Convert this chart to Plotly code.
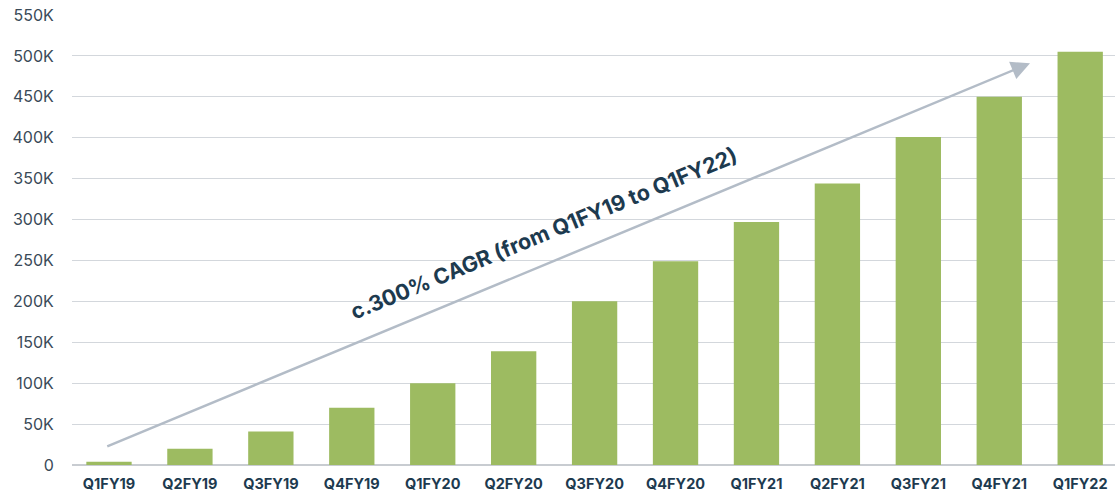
import plotly.graph_objects as go

categories = ["Q1FY19", "Q2FY19", "Q3FY19", "Q4FY19", "Q1FY20", "Q2FY20", "Q3FY20",
              "Q4FY20", "Q1FY21", "Q2FY21", "Q3FY21", "Q4FY21", "Q1FY22"]
values = [4000, 20000, 41000, 70000, 100000, 139000, 200000,
          249000, 297000, 344000, 401000, 450000, 505000]
tick_vals = [0, 50000, 100000, 150000, 200000, 250000, 300000, 350000, 400000, 450000, 500000, 550000]
tick_text = ["0", "50K", "100K", "150K", "200K", "250K", "300K", "350K", "400K", "450K", "500K", "550K"]
note_text = "c.300% CAGR (from Q1FY19 to Q1FY22)"
arrow_start = (-0.04, 22000)
arrow_end = (11.38, 491000)
note_pos = (5.38, 283000)

fig = go.Figure()
fig.add_trace(go.Bar(
    x=list(range(len(categories))), y=values,
    marker=dict(color="#9dbb61", line=dict(width=0)),
    width=0.56,
))

fig.add_annotation(
    x=arrow_end[0], y=arrow_end[1], ax=arrow_start[0], ay=arrow_start[1],
    xref="x", yref="y", axref="x", ayref="y",
    text="", showarrow=True, arrowhead=2, arrowsize=1.5, arrowwidth=2.5,
    arrowcolor="#b3bcc7",
)
fig.add_annotation(
    x=note_pos[0], y=note_pos[1], xref="x", yref="y",
    text="<b>" + note_text + "</b>", showarrow=False, textangle=-22.4,
    font=dict(family="Inter", size=21.5, color="#1d3a4f"),
)

fig.update_layout(
    width=1115, height=494,
    margin=dict(l=72, r=0, t=15, b=29),
    paper_bgcolor="white", plot_bgcolor="white",
    showlegend=False,
    bargap=0.44,
    xaxis=dict(
        range=[-0.457, 12.43],
        tickmode="array", tickvals=list(range(len(categories))),
        ticktext=["<b>" + c + "</b>" for c in categories],
        tickfont=dict(family="Inter", size=14.5, color="#1d3a4f"),
        showgrid=False, zeroline=False, showline=False,
        ticks="outside", ticklen=6, tickcolor="rgba(0,0,0,0)",
    ),
    yaxis=dict(
        range=[0, 550000],
        tickmode="array", tickvals=tick_vals, ticktext=tick_text,
        tickfont=dict(family="Inter", size=16, color="#3a4a58"),
        showgrid=True, gridcolor="#d3d7dc", gridwidth=1,
        zeroline=True, zerolinecolor="#c8ccd1", zerolinewidth=1.5,
        showline=False,
        ticks="outside", ticklen=14, tickcolor="rgba(0,0,0,0)",
    ),
)

fig.write_html("out.html")
